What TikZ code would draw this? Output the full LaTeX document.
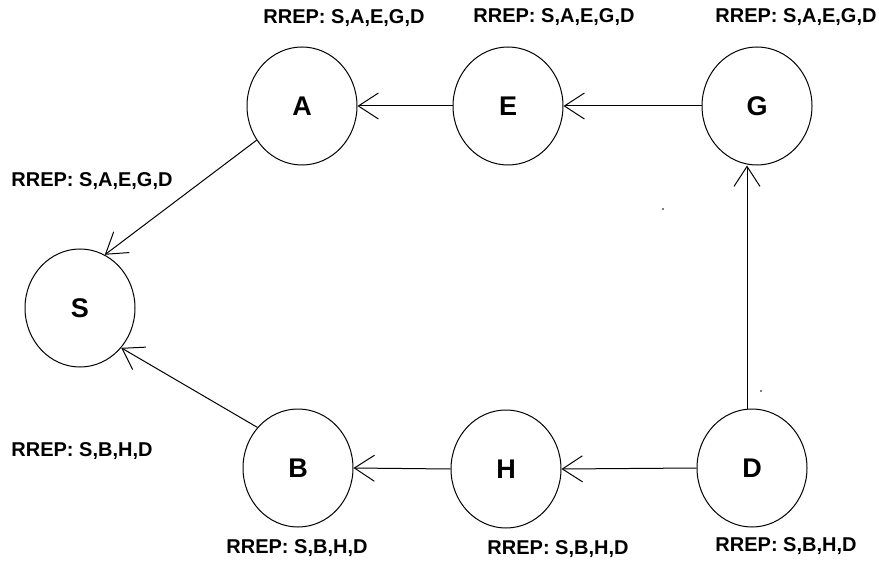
\documentclass[tikz,border=0pt]{standalone}
\usepackage{fontspec}
\setmainfont{Liberation Sans}
\usetikzlibrary{shapes.geometric,arrows.meta}
\begin{document}
\begin{tikzpicture}[x=1pt,y=-1pt,
  nd/.style={ellipse,draw,line width=1pt,minimum width=110pt,minimum height=118pt,inner sep=0pt,font=\fontsize{27}{27}\selectfont\bfseries},
  lbl/.style={font=\fontsize{20}{20}\selectfont\bfseries,inner sep=0pt},
  conn/.style={line width=1pt,-{Straight Barb[length=20pt,width=26pt,line width=1pt]}}]
\fill[white] (0,0) rectangle (879,567);
\useasboundingbox (0,0) rectangle (879,567);
% nodes
\node[nd] (S) at (80,308) {S};
\node[nd] (A) at (302,106) {A};
\node[nd] (E) at (508,106) {E};
\node[nd] (G) at (757,106) {G};
\node[nd] (B) at (298,468) {B};
\node[nd] (H) at (506,469) {H};
\node[nd] (D) at (752,468) {D};
% labels
\node[lbl] (lA) at (344,18) {RREP: S,A,E,G,D};
\node[lbl] (lE) at (554,17) {RREP: S,A,E,G,D};
\node[lbl] (lG) at (796,17) {RREP: S,A,E,G,D};
\node[lbl] (lS) at (92,181) {RREP: S,A,E,G,D};
\node[lbl] (lS2) at (82,451) {RREP: S,B,H,D};
\node[lbl] (lB) at (297,548) {RREP: S,B,H,D};
\node[lbl] (lH) at (558,549) {RREP: S,B,H,D};
\node[lbl] (lD) at (786,546) {RREP: S,B,H,D};
% connectors
\draw[conn] (E.west) -- (A.east);
\draw[conn] (G.west) -- (E.east);
\draw[conn] ([xshift=-5pt]D.north) -- ([xshift=-10pt]G.south);
\draw[conn] (A.217) -- (S.65);
\draw[conn] (B.135) -- (S.316);
\draw[conn] (H.west) -- (B.east);
\draw[conn] (D.west) -- (H.east);
% stray dots
\fill (663,209) circle (0.8pt);
\fill (761,391) circle (0.8pt);
\end{tikzpicture}
\end{document}
